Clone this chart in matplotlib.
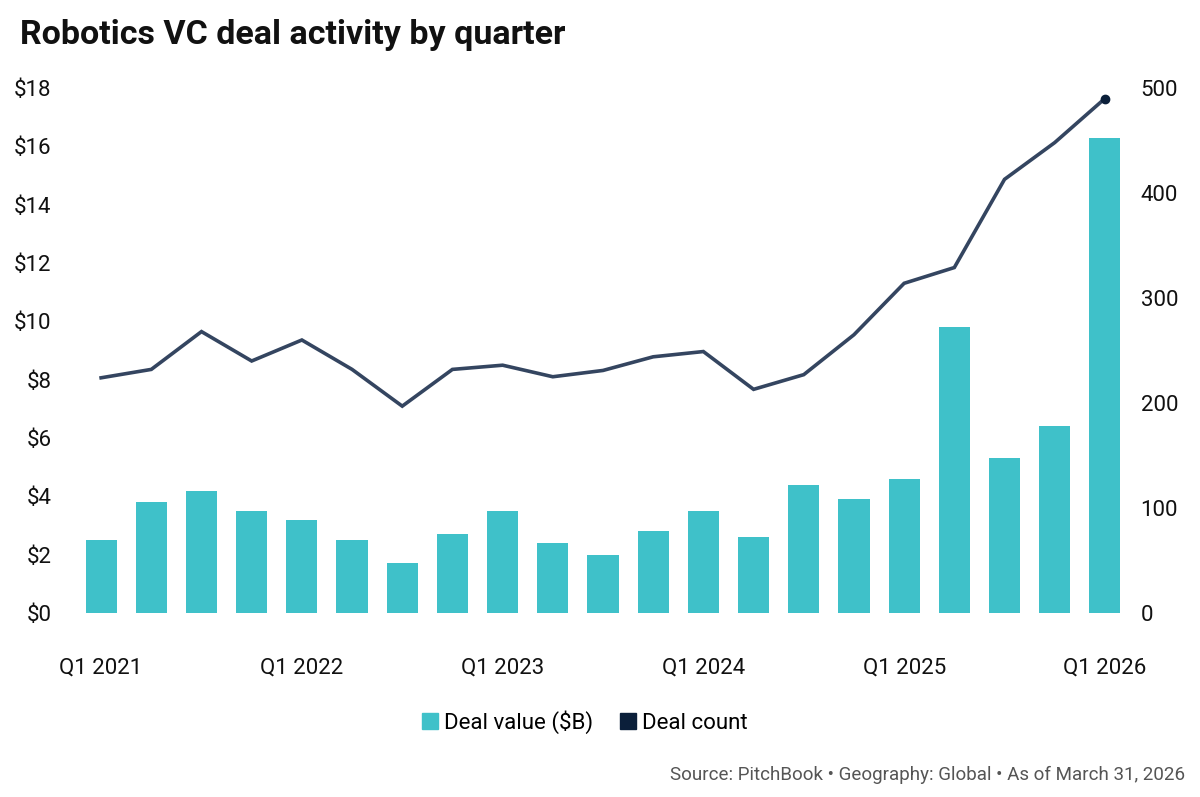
import matplotlib
matplotlib.use("Agg")
import matplotlib.pyplot as plt
from matplotlib.lines import Line2D
import numpy as np

plt.rcParams['font.family'] = ['Roboto', 'DejaVu Sans']

quarters = ["Q1 2021", "Q2 2021", "Q3 2021", "Q4 2021",
            "Q1 2022", "Q2 2022", "Q3 2022", "Q4 2022",
            "Q1 2023", "Q2 2023", "Q3 2023", "Q4 2023",
            "Q1 2024", "Q2 2024", "Q3 2024", "Q4 2024",
            "Q1 2025", "Q2 2025", "Q3 2025", "Q4 2025",
            "Q1 2026"]
deal_value = [2.5, 3.8, 4.2, 3.5, 3.2, 2.5, 1.7, 2.7, 3.5, 2.4, 2.0,
              2.8, 3.5, 2.6, 4.4, 3.9, 4.6, 9.8, 5.3, 6.4, 16.3]
deal_count = [224, 232, 268, 240, 260, 232, 197, 232, 236, 225, 231,
              244, 249, 213, 227, 265, 314, 329, 413, 448, 490]

bar_col = "#3fc1c9"
line_col = "#344560"
dark = "#0b1f3a"

x = np.arange(len(quarters))

fig = plt.figure(figsize=(12, 7.97), dpi=100)
ax = fig.add_axes([71/1200, 184/797, 1064/1200, 525/797])
ax.bar(x, deal_value, width=0.62, color=bar_col, zorder=2)
ax.set_xlim(-0.6, 20.6)
ax.set_ylim(0, 18)
ax.set_yticks(np.arange(0, 19, 2))
ax.set_yticklabels(["$%d" % v for v in range(0, 19, 2)])
ax.set_xticks(x[::4])
ax.set_xticklabels(quarters[::4])
ax.tick_params(axis='x', length=0, pad=32, labelsize=16, labelcolor="#111111")
ax.tick_params(axis='y', length=0, pad=14, labelsize=16, labelcolor="#111111")
for s in ax.spines.values():
    s.set_visible(False)

ax2 = ax.twinx()
ax2.plot(x, deal_count, color=line_col, lw=2.6, zorder=3, solid_joinstyle='miter')
ax2.plot(x[-1], deal_count[-1], 'o', color=dark, ms=6, zorder=4, clip_on=False)
ax2.set_ylim(0, 500)
ax2.set_yticks(np.arange(0, 501, 100))
ax2.tick_params(axis='y', length=0, pad=4, labelsize=16, labelcolor="#111111")
for s in ax2.spines.values():
    s.set_visible(False)

fig.text(20/1200, 1 - 35/797, "Robotics VC deal activity by quarter",
         fontsize=24.5, fontweight='bold', va='center', ha='left', color="#111111")

handles = [Line2D([], [], marker='s', ls='', color=bar_col, ms=11),
           Line2D([], [], marker='s', ls='', color=dark, ms=11)]
fig.legend(handles, ["Deal value ($B)", "Deal count"], loc='center',
           bbox_to_anchor=(585/1200, 1 - 722/797), ncol=2, frameon=False,
           fontsize=16, handlelength=0.7, handletextpad=0.3, columnspacing=1.2)

fig.text(1185/1200, 1 - 775/797,
         "Source: PitchBook \u2022 Geography: Global \u2022 As of March 31, 2026",
         fontsize=13.5, ha='right', va='center', color="#555555")

fig.savefig("out.png", dpi=100)
